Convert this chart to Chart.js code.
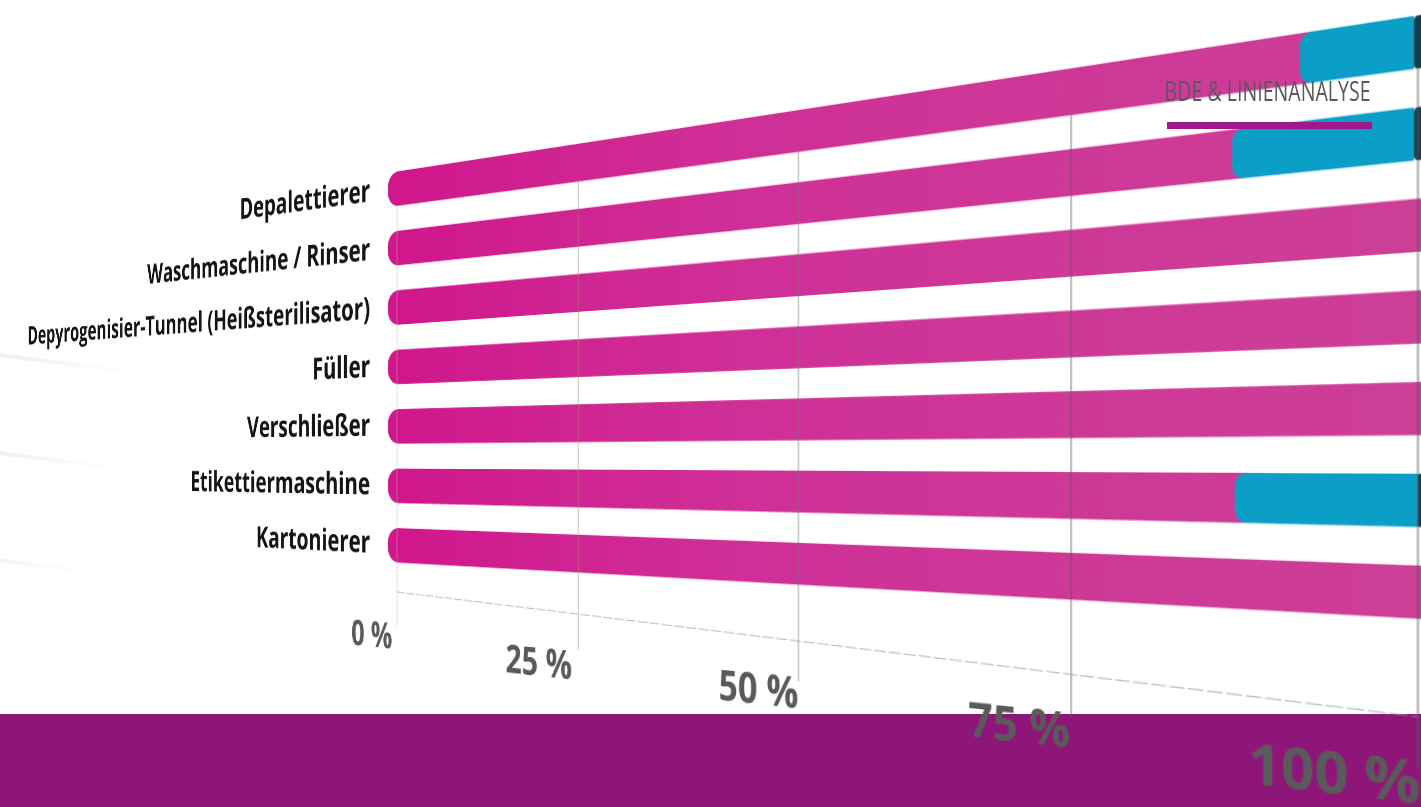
<!DOCTYPE html>
<html lang="de">
<head>
<meta charset="utf-8">
<title>BDE & Linienanalyse</title>
<script src="https://cdn.jsdelivr.net/npm/chart.js@4"></script>
<style>
    html, body { margin: 0; background: #fff; }
    #page { position: absolute; left: 0; top: 0; width: 1421px; height: 807px; overflow: hidden; background: #fff; }
    #footer { position: absolute; left: 0; top: 714px; width: 1421px; height: 93px; background: #8f1679; }
    #chartBox { position: absolute; left: 0; top: 0; width: 2060px; height: 720px; transform-origin: 0 0; }
    #heading { position: absolute; right: 50px; top: 71px; font: 400 28px "Open Sans", sans-serif; color: #58595b; white-space: nowrap; transform-origin: right center; }
    #rule { position: absolute; left: 1167px; top: 122px; width: 205px; height: 7px; background: #a0198c; }
    .streak { position: absolute; left: -10px; height: 4px; transform-origin: 0 0; }
</style>
</head>
<body>
<div id="page">
    <div class="streak" style="top:352px;width:150px;transform:rotate(7deg);background:linear-gradient(90deg,#eeeeee,#fff)"></div>
    <div class="streak" style="top:450px;width:130px;transform:rotate(7deg);background:linear-gradient(90deg,#f6ecf0,#fff)"></div>
    <div class="streak" style="top:557px;width:100px;transform:rotate(7deg);background:linear-gradient(90deg,#f6f2f2,#fff)"></div>
    <div id="footer"></div>
    <div id="chartBox"><canvas id="myChart" width="2060" height="720"></canvas></div>
    <div id="heading">BDE &amp; LINIENANALYSE</div>
    <div id="rule"></div>
</div>
<script>
//values, in percent
var categories = ['Depalettierer', 'Waschmaschine / Rinser', 'Depyrogenisier-Tunnel (Heißsterilisator)', 'Füller', 'Verschließer', 'Etikettiermaschine', 'Kartonierer'];
var pinkShare = [92.2, 87.4, 100.3, 100.3, 100.3, 87.6, 100.3];
var blueShare = [7.55, 12.35, null, null, null, 12.4, null];
var darkShare = [0.55, 0.55, null, null, null, 0.3, null];
var tickValues = [0, 25, 50, 75, 100];

//where the corners of the plot land on the page (top left, top right, bottom right, bottom left)
var plotCorners = [[397, 159], [1418, -4], [1418, 638], [397, 575]];

//look of the x axis, one entry per tick
var gridColors = ['rgba(190,190,190,.5)', 'rgba(170,140,110,.6)', 'rgba(120,120,120,.6)', 'rgba(90,90,90,.6)', 'rgba(90,90,90,.6)'];
var gridDrop = [60, 68, 79, 88, 100];
var labelDrop = [75, 88, 93, 101, 113];
var labelSize = [42, 43, 42, 43, 46];
var labelNudge = [-8, -9, 0, -1, 2];

var pinkStart = -1.4;
var pinkOverlap = 1;

function floatingBars(starts, shares) {
    return shares.map((share, i) => share === null ? null : [starts[i], starts[i] + share]);
}
var blueBars = floatingBars(pinkShare, blueShare);
var darkBars = floatingBars(pinkShare.map((p, i) => p + (blueShare[i] || 0)), darkShare);
var pinkBars = pinkShare.map(p => [pinkStart, p + pinkOverlap]);

function pinkFill(context) {
    let area = context.chart.chartArea;
    if (!area) return '#d0288f';
    let g = context.chart.ctx.createLinearGradient(area.left, 0, area.right, 0);
    g.addColorStop(0, '#d0178c');
    g.addColorStop(0.45, '#cf3097');
    g.addColorStop(1, '#cd3f97');
    return g;
}

//x axis is drawn here because its lines and labels drop by a different amount per tick
const axisPlugin = {
    id: 'axisPlugin',
    afterDatasetsDraw(chart) {
        const ctx = chart.ctx;
        const x = chart.scales.x;
        const y = chart.scales.y;
        const barHalf = chart.getDatasetMeta(2).data[0].height / 2;
        const firstBarBottom = y.getPixelForValue(0) + barHalf;
        ctx.save();
        x.ticks.forEach((tick, i) => {
            let px = x.getPixelForValue(tick.value);
            ctx.strokeStyle = gridColors[i];
            ctx.lineWidth = 1.3;
            ctx.beginPath();
            ctx.moveTo(px, firstBarBottom);
            ctx.lineTo(px, y.bottom + gridDrop[i]);
            ctx.stroke();
            ctx.fillStyle = '#5a5a5a';
            ctx.font = 'bold ' + labelSize[i] + 'px "Open Sans", sans-serif';
            ctx.textAlign = 'right';
            ctx.textBaseline = 'middle';
            ctx.fillText(tick.label, px + labelNudge[i], y.bottom + labelDrop[i]);
        });
        ctx.strokeStyle = 'rgba(150,150,150,.7)';
        ctx.lineWidth = 1;
        ctx.setLineDash([13, 3]);
        ctx.beginPath();
        ctx.moveTo(x.left, y.bottom + 20);
        ctx.lineTo(x.right, y.bottom + 60);
        ctx.stroke();
        ctx.restore();
    }
};

var myChart = new Chart(document.getElementById('myChart'), {
    type: 'bar',
    data: {
        labels: categories,
        datasets: [
            { label: 'Dunkel', data: darkBars, backgroundColor: '#0d3f4c', borderRadius: { topLeft: 5, bottomLeft: 5 } },
            { label: 'Blau', data: blueBars, backgroundColor: '#0b9fc7', borderRadius: { topLeft: 10, bottomLeft: 10 } },
            { label: 'Pink', data: pinkBars, backgroundColor: pinkFill, borderRadius: { topLeft: 18, bottomLeft: 18 } }
        ]
    },
    options: {
        indexAxis: 'y',
        responsive: false,
        animation: false,
        devicePixelRatio: 2,
        layout: { padding: { top: 40, right: 40 } },
        plugins: { legend: { display: false }, tooltip: { enabled: false }, title: { display: false } },
        datasets: { bar: { grouped: false, clip: false, borderWidth: 0, borderSkipped: false, barPercentage: 0.58, categoryPercentage: 1 } },
        scales: {
            x: {
                min: 0,
                max: 100,
                afterBuildTicks(scale) { scale.ticks = tickValues.map(v => ({ value: v })); },
                ticks: { display: false, callback: v => v + ' %' },
                grid: { display: false },
                border: { display: false },
                afterFit(scale) { scale.height = 170; }
            },
            y: {
                ticks: {
                    color: '#141414',
                    padding: 39,
                    autoSkip: false,
                    font: { family: '"Open Sans", sans-serif', size: 37, weight: 'bold' }
                },
                grid: { display: false },
                border: { display: false },
                afterFit(scale) { scale.width = 880; }
            }
        }
    },
    plugins: [axisPlugin]
});

//lean the finished chart back, same way the picture does
function applyPerspective(chart, corners) {
    const area = chart.chartArea;
    const W = area.right - area.left, H = area.bottom - area.top;
    const [p0, p1, p2, p3] = corners;
    const dx1 = p1[0] - p2[0], dx2 = p3[0] - p2[0], sx = p0[0] - p1[0] + p2[0] - p3[0];
    const dy1 = p1[1] - p2[1], dy2 = p3[1] - p2[1], sy = p0[1] - p1[1] + p2[1] - p3[1];
    const den = dx1 * dy2 - dx2 * dy1;
    const g = (sx * dy2 - dx2 * sy) / den, h = (dx1 * sy - sx * dy1) / den;
    const a = p1[0] - p0[0] + g * p1[0], b = p3[0] - p0[0] + h * p3[0], c = p0[0];
    const d = p1[1] - p0[1] + g * p1[1], e = p3[1] - p0[1] + h * p3[1], f = p0[1];
    const C = c - a * area.left / W - b * area.top / H;
    const F = f - d * area.left / W - e * area.top / H;
    const I = 1 - g * area.left / W - h * area.top / H;
    const m = [a / W, d / W, 0, g / W, b / H, e / H, 0, h / H, 0, 0, 1, 0, C, F, 0, I];
    document.getElementById('chartBox').style.transform = 'matrix3d(' + m.map(v => v / I).join(',') + ')';
}
applyPerspective(myChart, plotCorners);

//no condensed font installed, squeeze the heading to its width in the picture
var heading = document.getElementById('heading');
heading.style.transform = 'scaleX(' + (206 / heading.getBoundingClientRect().width) + ')';
</script>
</body>
</html>
